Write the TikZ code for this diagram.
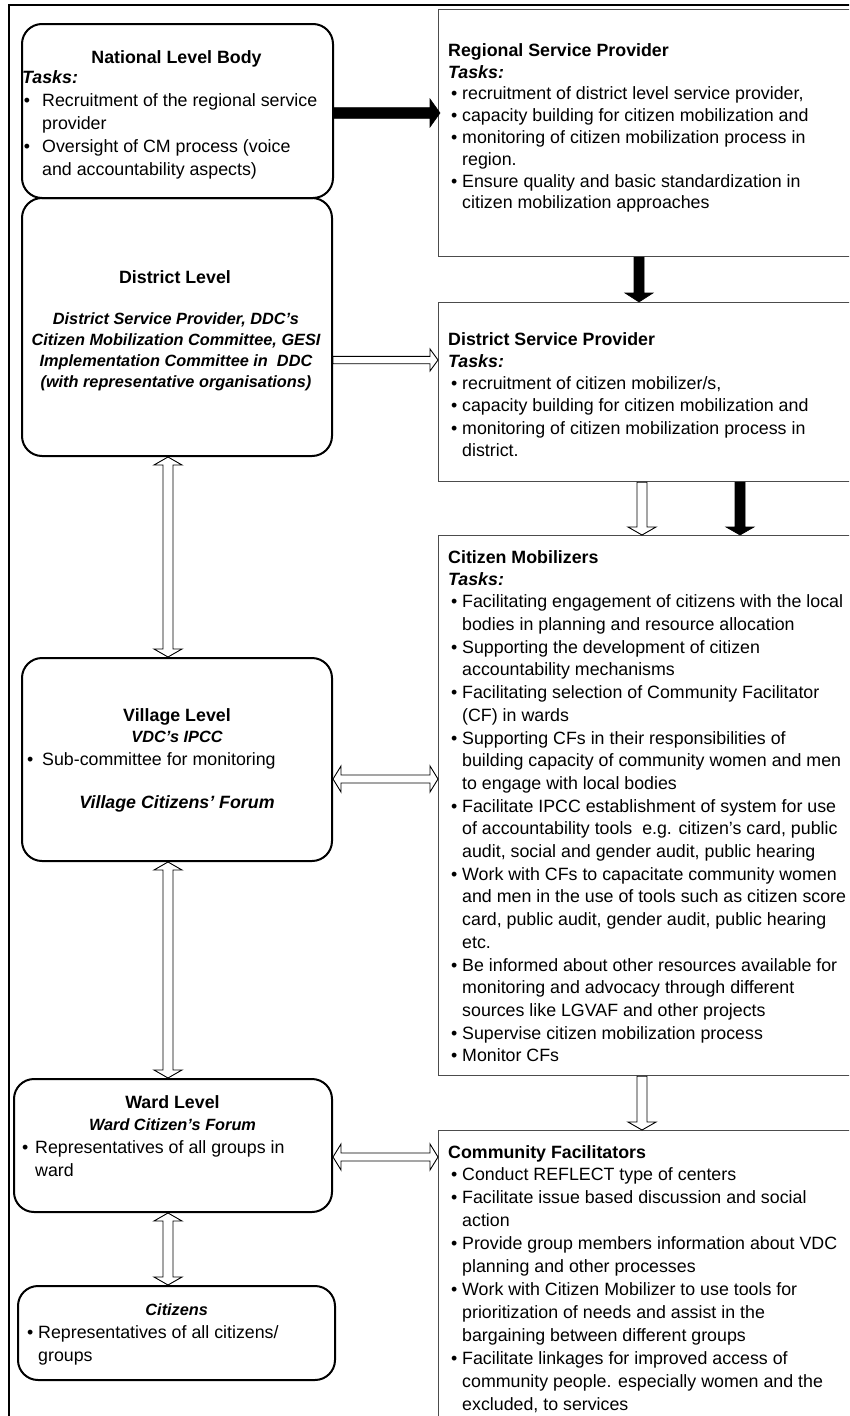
\documentclass[tikz,border=0pt]{standalone}
\usepackage{fontspec}
\setmainfont{Liberation Sans}
\usetikzlibrary{calc}

% bullet helpers: \bl{gap before bullet}{bullet box width}, \ind{indent of continuation lines}
\newcommand\bl[2]{\hspace*{#1}\makebox[#2][l]{\textbullet}}
\newcommand\ind[1]{\hspace*{#1}}
\newcommand\rb{\bl{3pt}{11pt}}
\newcommand\rc{\ind{14pt}}

% block arrow with one head: style, start, end, shaft half width, head half width, head length
\newcommand\onearrow[6]{%
  \coordinate (ha) at ($(#3)!#6!(#2)$);
  \draw[#1] ($(#2)!#4!90:(#3)$) -- ($(ha)!#4!90:(#3)$) -- ($(ha)!#5!90:(#3)$) -- (#3)
    -- ($(ha)!#5!-90:(#3)$) -- ($(ha)!#4!-90:(#3)$) -- ($(#2)!#4!-90:(#3)$) -- cycle;}
% block arrow with heads at both ends
\newcommand\twoarrow[6]{%
  \coordinate (ha) at ($(#2)!#6!(#3)$);
  \coordinate (hb) at ($(#3)!#6!(#2)$);
  \draw[#1] (#2) -- ($(ha)!#5!90:(#3)$) -- ($(ha)!#4!90:(#3)$) -- ($(hb)!#4!90:(#3)$)
    -- ($(hb)!#5!90:(#3)$) -- (#3) -- ($(hb)!#5!-90:(#3)$) -- ($(hb)!#4!-90:(#3)$)
    -- ($(ha)!#4!-90:(#3)$) -- ($(ha)!#5!-90:(#3)$) -- cycle;}

\tikzset{
  lbox/.style={draw=black, line width=2pt, rounded corners=20pt, rectangle,
    inner sep=0pt, anchor=north west},
  rbox/.style={draw=black!70, line width=1.2pt, rectangle, inner sep=0pt, anchor=north west},
  ttl/.style={font=\bfseries\fontsize{17.8}{23}\selectfont, inner sep=0pt, anchor=north},
  rttl/.style={font=\bfseries\fontsize{17.8}{23}\selectfont, inner sep=0pt, anchor=north west},
  sbi/.style={font=\bfseries\itshape\fontsize{16.3}{21}\selectfont, inner sep=0pt,
    anchor=north, align=center},
  bdy/.style={font=\fontsize{17.8}{#1}\selectfont, inner sep=0pt, anchor=north west, align=left},
  bdy/.default=23,
  solid arrow/.style={fill=black, draw=black, line width=0.6pt, line join=miter},
  open arrow/.style={fill=white, draw=black, line width=0.9pt, line join=miter},
}

\begin{document}
\begin{tikzpicture}[x=1pt,y=-1pt]
\useasboundingbox (0,0) rectangle (849,1416);
\begin{scope}
\clip (0,0) rectangle (849,1416);

% outer frame
\draw[line width=2.2pt] (9.3,1430) -- (9.3,5) -- (870,5);

% levels on the left
\node[lbox, minimum width=311, minimum height=174] (nat) at (21,23) {};
\node[lbox, minimum width=310, minimum height=258] (dist) at (21,197) {};
\node[lbox, minimum width=310, minimum height=203] (vil) at (21,657) {};
\node[lbox, minimum width=318, minimum height=133] (ward) at (13,1078) {};
\node[lbox, minimum width=317, minimum height=94] (cit) at (17,1285) {};

% actors on the right
\node[rbox, minimum width=440, minimum height=247] (reg) at (438,9) {};
\node[rbox, minimum width=440, minimum height=179] (dsp) at (438,302) {};
\node[rbox, minimum width=440, minimum height=540] (cm) at (438,535) {};
\node[rbox, minimum width=440, minimum height=320] (cf) at (438,1130) {};

% National Level Body
\node[ttl] (natT) at (176.5,50) {National Level Body};
\node[bdy] (natB) at (22,70) {\textbf{\textit{Tasks:}}\\
\bl{1.6pt}{18.4pt}Recruitment of the regional service\\
\ind{20pt}provider\\
\bl{1.6pt}{18.4pt}Oversight of CM process (voice\\
\ind{20pt}and accountability aspects)};

% District Level
\node[ttl] (distT) at (175,270) {District Level};
\node[sbi] (distB) at (176,312) {District Service Provider, DDC’s\\
Citizen Mobilization Committee, GESI\\
Implementation Committee in\ \ DDC\\
(with representative organisations)};

% Village Level
\node[ttl] (vilT) at (177,708) {Village Level};
\node[sbi] (vilS) at (177,731) {VDC’s IPCC};
\node[bdy] (vilB) at (24,752) {\bl{3pt}{15pt}Sub-committee for monitoring};
\node[ttl, font=\bfseries\itshape\fontsize{17.8}{23}\selectfont] (vilF) at (177,795) {Village Citizens’ Forum};

% Ward Level
\node[ttl] (wardT) at (172.5,1095) {Ward Level};
\node[sbi] (wardS) at (172.5,1118) {Ward Citizen’s Forum};
\node[bdy] (wardB) at (19,1140) {\bl{3pt}{13pt}Representatives of all groups in\\
\ind{16pt}ward};

% Citizens
\node[sbi] (citS) at (176.7,1303) {Citizens};
\node[bdy] (citB) at (24,1325) {\bl{3pt}{11pt}Representatives of all citizens/\\
\ind{14pt}groups};

% Regional Service Provider
\node[rttl] (regT) at (448,43) {Regional Service Provider};
\node[bdy=21.8] (regB) at (448,65) {\textbf{\textit{Tasks:}}\\
\rb recruitment of district level service provider,\\
\rb capacity building for citizen mobilization and\\
\rb monitoring of citizen mobilization process in\\
\rc region.\\
\rb Ensure quality and basic standardization in\\
\rc citizen mobilization approaches};

% District Service Provider
\node[rttl] (dspT) at (448,332) {District Service Provider};
\node[bdy=22.3] (dspB) at (448,354) {\textbf{\textit{Tasks:}}\\
\rb recruitment of citizen mobilizer/s,\\
\rb capacity building for citizen mobilization and\\
\rb monitoring of citizen mobilization process in\\
\rc district.};

% Citizen Mobilizers
\node[rttl] (cmT) at (448,550) {Citizen Mobilizers};
\node[bdy=22.7] (cmB) at (448,572) {\textbf{\textit{Tasks:}}\\
\rb Facilitating engagement of citizens with the local\\
\rc bodies in planning and resource allocation\\
\rb Supporting the development of citizen\\
\rc accountability mechanisms\\
\rb Facilitating selection of Community Facilitator\\
\rc (CF) in wards\\
\rb Supporting CFs in their responsibilities of\\
\rc building capacity of community women and men\\
\rc to engage with local bodies\\
\rb Facilitate IPCC establishment of system for use\\
\rc of accountability tools\ \ e.g. citizen’s card, public\\
\rc audit, social and gender audit, public hearing\\
\rb Work with CFs to capacitate community women\\
\rc and men in the use of tools such as citizen score\\
\rc card, public audit, gender audit, public hearing\\
\rc etc.\\
\rb Be informed about other resources available for\\
\rc monitoring and advocacy through different\\
\rc sources like LGVAF and other projects\\
\rb Supervise citizen mobilization process\\
\rb Monitor CFs};

% Community Facilitators
\node[rttl] (cfT) at (448,1145) {Community Facilitators};
\node[bdy] (cfB) at (448,1167) {\rb Conduct REFLECT type of centers\\
\rb Facilitate issue based discussion and social\\
\rc action\\
\rb Provide group members information about VDC\\
\rc planning and other processes\\
\rb Work with Citizen Mobilizer to use tools for\\
\rc prioritization of needs and assist in the\\
\rc bargaining between different groups\\
\rb Facilitate linkages for improved access of\\
\rc community people. especially women and the\\
\rc excluded, to services};

% connector end points
\coordinate (a1s) at (nat.east |- 0,113);  \coordinate (a1e) at ($(reg.west |- 0,113)+(2,0)$);
\coordinate (a2s) at (reg.south -| 639,0); \coordinate (a2e) at (dsp.north -| 639,0);
\coordinate (a3s) at (dist.east |- 0,360); \coordinate (a3e) at (dsp.west |- 0,360);
\coordinate (a4s) at (dsp.south -| 642,0); \coordinate (a4e) at (cm.north -| 642,0);
\coordinate (a5s) at (dsp.south -| 740,0); \coordinate (a5e) at (cm.north -| 740,0);
\coordinate (a6s) at (cm.south -| 642,0);  \coordinate (a6e) at (cf.north -| 642,0);
\coordinate (b1s) at (dist.south -| 168,0); \coordinate (b1e) at (vil.north -| 168,0);
\coordinate (b2s) at (vil.east |- 0,779);   \coordinate (b2e) at (cm.west |- 0,779);
\coordinate (b3s) at (vil.south -| 168,0);  \coordinate (b3e) at (ward.north -| 168,0);
\coordinate (b4s) at (ward.east |- 0,1157); \coordinate (b4e) at (cf.west |- 0,1157);
\coordinate (b5s) at (ward.south -| 168,0); \coordinate (b5e) at (cit.north -| 168,0);

% one-way connectors
\onearrow{solid arrow}{a1s}{a1e}{5.3pt}{14pt}{10pt}
\onearrow{solid arrow}{a2s}{a2e}{5pt}{14pt}{9pt}
\onearrow{open arrow}{a3s}{a3e}{3.7pt}{11pt}{8pt}
\onearrow{open arrow}{a4s}{a4e}{5pt}{14pt}{8pt}
\onearrow{solid arrow}{a5s}{a5e}{5pt}{14pt}{8pt}
\onearrow{open arrow}{a6s}{a6e}{5pt}{14pt}{8pt}

% two-way connectors
\twoarrow{open arrow}{b1s}{b1e}{5pt}{14pt}{8pt}
\twoarrow{open arrow}{b2s}{b2e}{4pt}{13pt}{8pt}
\twoarrow{open arrow}{b3s}{b3e}{5pt}{14pt}{8pt}
\twoarrow{open arrow}{b4s}{b4e}{4pt}{13pt}{8pt}
\twoarrow{open arrow}{b5s}{b5e}{5pt}{14pt}{8pt}
\end{scope}
\end{tikzpicture}
\end{document}
